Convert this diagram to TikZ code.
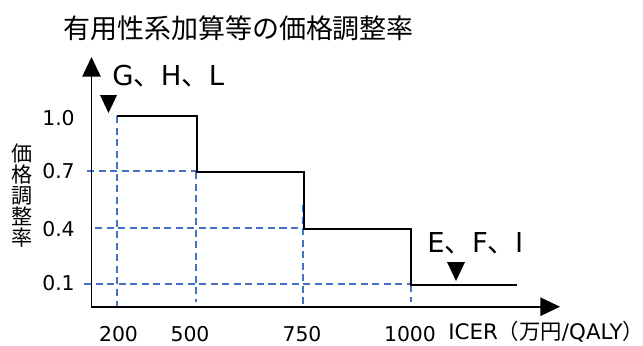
\documentclass[tikz,border=0pt]{standalone}
\usepackage{fontspec}
\setmainfont{DejaVu Sans}
\newfontfamily\jp{Noto Sans CJK JP}
\usetikzlibrary{arrows.meta}

\definecolor{guideblue}{RGB}{68,114,196}

\begin{document}
\begin{tikzpicture}[x=0.025cm,y=-0.025cm,
  axis/.style={line width=1.4pt,{Triangle[length=14pt,width=13pt]}-{Triangle[length=14pt,width=13pt]}},
  guide/.style={guideblue,line width=1.1pt,dash pattern=on 5pt off 3.2pt},
  rateline/.style={line width=1.4pt},
  tick/.style={inner sep=0pt,font=\fontsize{14.5}{14.5}\selectfont},
  group/.style={inner sep=0pt,anchor=base west,font=\fontsize{19.5}{19.5}\selectfont}]
\useasboundingbox (0,0) rectangle (643,345);

% title
\node[font=\jp\fontsize{19.2}{19.2}\selectfont] (title) at (238.5,28.5) {有用性系加算等の価格調整率};

% guides
\begin{scope}[guide]
\draw (117,116)--(117,306);
\draw (196,172)--(196,302);
\draw (303,205)--(303,306);
\draw (411,285)--(411,302);
\draw (87,171)--(197,171);
\draw (95,228)--(304,228);
\draw (84,284)--(411,284);
\end{scope}

% axes
\coordinate (origin) at (91.5,306.7);
\draw[axis] (91.5,57)--(origin)--(560,306.7);

% the rate
\draw[rateline] (117,116)--(197,116)--(197,172)--(304,172)--(304,229)--(411,229)--(411,285)--(517,285);

% markers
\fill (100,95)--(117,95)--(108.5,113)--cycle;
\fill (447,262)--(465,262)--(456,281)--cycle;
\node[group] (ghl) at (112,85) {G{\jp 、}H{\jp 、}L};
\node[group] (efi) at (427,252) {E{\jp 、}F{\jp 、}I};

% y-axis
\node[tick,anchor=base east] (y10) at (75,125.5) {1.0};
\node[tick,anchor=base east] (y07) at (75,178) {0.7};
\node[tick,anchor=base east] (y04) at (75,236.5) {0.4};
\node[tick,anchor=base east] (y01) at (75,290) {0.1};
\node[align=center,inner sep=0pt,font=\jp\fontsize{15}{15}\selectfont] (ylabel) at (22,195.5) {価\\格\\調\\整\\率};

% x-axis
\node[tick,anchor=base] (x200) at (118.5,341.5) {200};
\node[tick,anchor=base] (x500) at (190,341.5) {500};
\node[tick,anchor=base] (x750) at (302,341.5) {750};
\node[tick,anchor=base] (x1000) at (410,341.5) {1000};
\node[tick,anchor=base west,font=\fontsize{15.2}{15.2}\selectfont] (xlabel) at (448,339.5) {ICER{\jp （万円}/QALY{\jp ）}};
\end{tikzpicture}
\end{document}
